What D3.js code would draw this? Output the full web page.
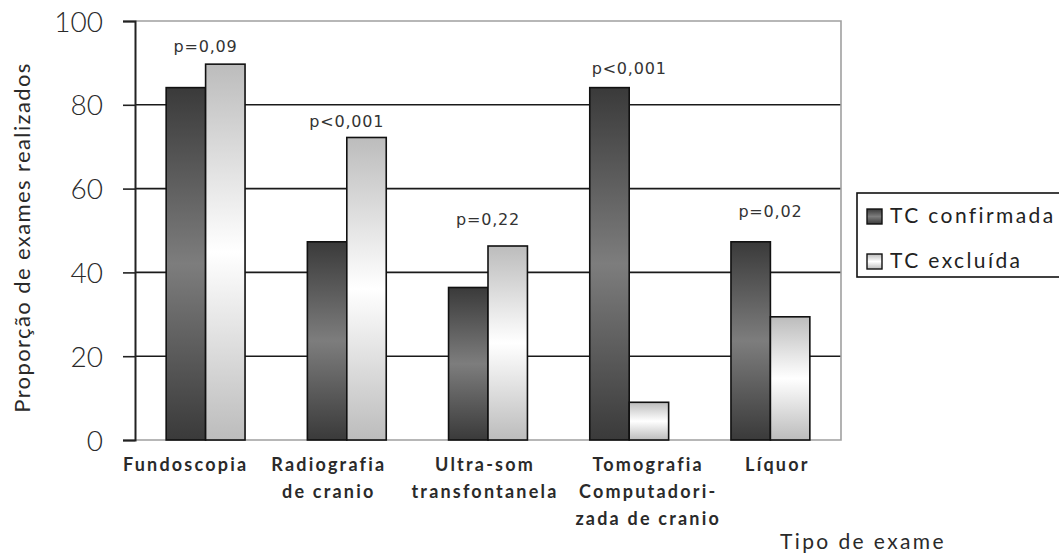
<!DOCTYPE html>
<html>
<head>
<meta charset="utf-8">
<script src="https://cdn.jsdelivr.net/npm/d3@7/dist/d3.min.js"></script>
<style>
  html, body { margin: 0; padding: 0; background: #fff; }
  svg { display: block; }
</style>
</head>
<body>
<svg id="chart" width="1059" height="560"></svg>
<script>
// ---- data ----
const categories = [
  ["Fundoscopia"],
  ["Radiografia", "de cranio"],
  ["Ultra-som", "transfontanela"],
  ["Tomografia", "Computadori-", "zada de cranio"],
  ["Líquor"]
];
const seriesNames = ["TC confirmada", "TC excluída"];
const tcConfirmada = [84.1, 47.3, 36.4, 84.1, 47.3];
const tcExcluida   = [89.7, 72.2, 46.3, 9.0, 29.4];
const pLabels = ["p=0,09", "p<0,001", "p=0,22", "p<0,001", "p=0,02"];
const pLabelLevel = [92.6, 74.7, 51.3, 87.3, 53.2];
const yTicks = [0, 20, 40, 60, 80, 100];
const yTitle = "Proporção de exames realizados";
const xTitle = "Tipo de exame";

// ---- layout (not data) ----
const plot = { left: 135, right: 841, top: 21, bottom: 440 };
const labelNudge = [-20, -18, -3, 19, 7];

const svg = d3.select("#chart");
const defs = svg.append("defs");

function grad(id, edge, mid) {
  const g = defs.append("linearGradient").attr("id", id)
    .attr("x1", 0).attr("y1", 0).attr("x2", 0).attr("y2", 1);
  g.append("stop").attr("offset", "0%").attr("stop-color", edge);
  g.append("stop").attr("offset", "50%").attr("stop-color", mid);
  g.append("stop").attr("offset", "100%").attr("stop-color", edge);
}
grad("gDark", "#3a3a3a", "#7d7d7d");
grad("gLight", "#bcbcbc", "#ffffff");
const fills = ["url(#gDark)", "url(#gLight)"];

const idx = d3.range(categories.length);
const x = d3.scaleBand().domain(idx).range([plot.left, plot.right]).paddingInner(0).paddingOuter(0);
const x1 = d3.scaleBand().domain([0, 1]).range([0, x.bandwidth()]).paddingInner(0).paddingOuter(0.79);
const y = d3.scaleLinear().domain([0, 100]).range([plot.bottom, plot.top]);

// gridlines
svg.append("g").selectAll("line").data(yTicks.filter(t => t > 0 && t < 100)).join("line")
  .attr("x1", plot.left).attr("x2", plot.right)
  .attr("y1", d => y(d)).attr("y2", d => y(d))
  .attr("stroke", "#1a1a1a").attr("stroke-width", 1.6);

// top / right / bottom border (gray)
svg.append("path")
  .attr("d", `M${plot.left},${y(100)}H${plot.right}V${y(0)}H${plot.left}`)
  .attr("fill", "none").attr("stroke", "#a0a0a0").attr("stroke-width", 1.6);

// y axis
const yAxis = d3.axisLeft(y).tickValues(yTicks).tickSize(12).tickPadding(20).tickFormat(d3.format("d"));
const gy = svg.append("g").attr("transform", `translate(${plot.left},0)`).call(yAxis);
gy.select(".domain").attr("stroke", "#222").attr("stroke-width", 2);
gy.selectAll(".tick line").attr("stroke", "#222").attr("stroke-width", 1.6);
gy.selectAll(".tick text")
  .attr("font-family", "Lato, sans-serif").attr("font-size", 28).attr("font-weight", 300)
  .attr("fill", "#2a2a2a").attr("dy", "0.36em");

// bars
const series = [tcConfirmada, tcExcluida];
const groups = svg.append("g").selectAll("g").data(idx).join("g")
  .attr("transform", i => `translate(${x(i)},0)`);
groups.selectAll("rect").data(i => series.map((s, k) => ({ k, v: s[i] }))).join("rect")
  .attr("x", d => x1(d.k)).attr("width", x1.bandwidth())
  .attr("y", d => y(d.v)).attr("height", d => y(0) - y(d.v))
  .attr("fill", d => fills[d.k])
  .attr("stroke", "#111").attr("stroke-width", 1.6);

// p-value labels
svg.append("g").selectAll("text").data(idx).join("text")
  .attr("x", i => x(i) + x.bandwidth() / 2)
  .attr("y", i => y(pLabelLevel[i]))
  .attr("text-anchor", "middle")
  .attr("font-family", "DejaVu Sans, sans-serif").attr("font-size", 16)
  .attr("letter-spacing", 0.8)
  .attr("fill", "#333")
  .text(i => pLabels[i]);

// category labels
const xl = svg.append("g").selectAll("text").data(idx).join("text")
  .attr("text-anchor", "middle")
  .attr("font-family", "Lato, sans-serif").attr("font-size", 18).attr("font-weight", "bold")
  .attr("letter-spacing", 2.2)
  .attr("fill", "#2a2a2a");
xl.each(function (i) {
  const t = d3.select(this);
  categories[i].forEach((line, j) => {
    t.append("tspan")
      .attr("x", x(i) + x.bandwidth() / 2 + labelNudge[i])
      .attr("y", 471 + j * 27)
      .text(line);
  });
});

// axis titles
svg.append("text")
  .attr("transform", `translate(30,${(60 + 415) / 2}) rotate(-90)`)
  .attr("text-anchor", "middle")
  .attr("font-family", "Lato, sans-serif").attr("font-size", 22)
  .attr("letter-spacing", 1.4)
  .attr("fill", "#2a2a2a")
  .text(yTitle);

svg.append("text")
  .attr("x", 863).attr("y", 549)
  .attr("text-anchor", "middle")
  .attr("font-family", "Lato, sans-serif").attr("font-size", 21)
  .attr("letter-spacing", 2.4)
  .attr("fill", "#2a2a2a")
  .text(xTitle);

// legend
const lg = svg.append("g");
lg.append("rect").attr("x", 857).attr("y", 193).attr("width", 230).attr("height", 84)
  .attr("fill", "#fff").attr("stroke", "#111").attr("stroke-width", 1.6);
const li = lg.selectAll("g.item").data(seriesNames).join("g").attr("class", "item")
  .attr("transform", (d, k) => `translate(867,${209 + k * 45})`);
li.append("rect").attr("width", 15).attr("height", 15)
  .attr("fill", (d, k) => fills[k]).attr("stroke", "#111").attr("stroke-width", 1.4);
li.append("text").attr("x", 23).attr("y", 14)
  .attr("font-family", "Lato, sans-serif").attr("font-size", 21)
  .attr("letter-spacing", 2.4)
  .attr("fill", "#222")
  .text(d => d);
</script>
</body>
</html>
